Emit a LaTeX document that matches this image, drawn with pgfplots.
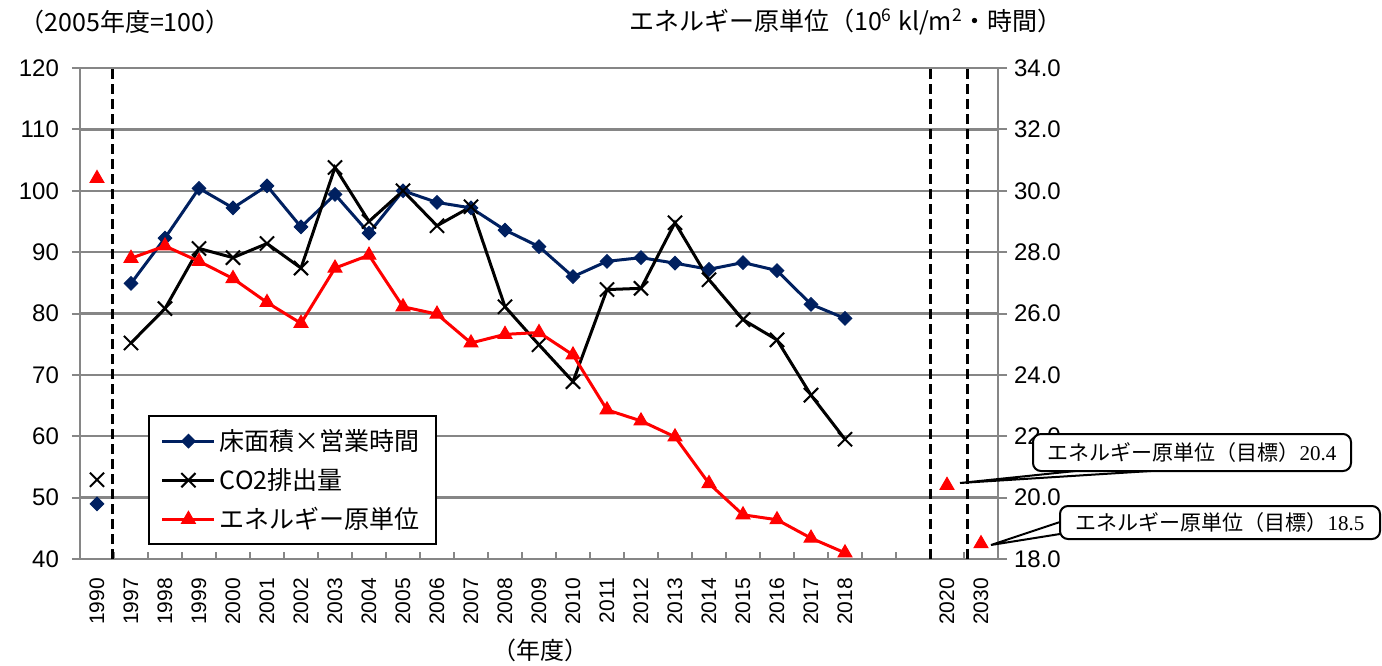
\documentclass[border=0pt]{standalone}
\usepackage{fontspec}
\setmainfont{Liberation Sans}
\newfontfamily\jp{Noto Sans CJK JP}
\newfontfamily\tm{Liberation Serif}
\usepackage{pgfplots}
\pgfplotsset{compat=1.18}
\definecolor{navy}{RGB}{0,32,96}
\definecolor{gridgray}{RGB}{134,134,134}
\begin{document}
\begin{tikzpicture}
\path[use as bounding box] (-40pt,-53pt) rectangle (651pt,279.5pt);
\pgfplotsset{
  every axis/.append style={
    scale only axis, width=459pt, height=245.5pt,
    xmin=-0.5, xmax=26.5, at={(0pt,0pt)}, anchor=south west, clip=false,
    /pgf/number format/assume math mode=true,
    tick label style={font=\fontsize{12}{14}\selectfont},
  },
  legend image code/.code={\draw[mark repeat=2,mark phase=2,#1] plot coordinates {(0pt,0pt) (13pt,0pt) (26pt,0pt)};},
  bluestyle/.style={navy, line width=1.5pt, mark=square*, mark size=2.4pt, mark options={solid, rotate=45, line width=0.5pt}},
  blackstyle/.style={black, line width=1.5pt, mark=x, mark size=5pt, mark options={solid, line width=1pt}},
  redstyle/.style={red, line width=1.5pt, mark=triangle*, mark size=4pt, mark options={solid, line width=0.5pt}},
}
\begin{axis}[
  ymin=40, ymax=120, ytick={40,50,...,120},
  ytick pos=left,
  xtick={0,1,...,22,25,26},
  xticklabels={1990,1997,1998,1999,2000,2001,2002,2003,2004,2005,2006,2007,2008,2009,2010,2011,2012,2013,2014,2015,2016,2017,2018,2020,2030},
  xtick pos=bottom,
  minor xtick={-0.5,0.5,...,26.5},
  major x tick style={draw=none},
  minor x tick style={gridgray, line width=1pt},
  minor tick length=3.5pt,
  major tick length=4pt,
  ytick style={gridgray, line width=1pt, xshift=-4pt},
  x tick label style={rotate=90, anchor=east, font=\fontsize{10.5}{12}\selectfont},
  xticklabel shift=6pt,
  yticklabel shift=7pt,
  ymajorgrids,
  grid style={gridgray, line width=1.2pt},
  axis line style={gridgray, line width=1.2pt},
  unbounded coords=jump,
]
\addplot[bluestyle] coordinates {(0,49.0) (0.5,nan) (1,84.9) (2,92.3) (3,100.4) (4,97.2) (5,100.8) (6,94.1) (7,99.4) (8,93.1) (9,100.0) (10,98.1) (11,97.2) (12,93.6) (13,90.9) (14,86.0) (15,88.5) (16,89.1) (17,88.2) (18,87.2) (19,88.3) (20,87.0) (21,81.5) (22,79.2)};
\addplot[blackstyle] coordinates {(0,52.9) (0.5,nan) (1,75.2) (2,80.8) (3,90.6) (4,89.1) (5,91.4) (6,87.4) (7,103.8) (8,95.0) (9,100.0) (10,94.3) (11,97.4) (12,81.1) (13,74.9) (14,68.9) (15,83.9) (16,84.1) (17,94.8) (18,85.5) (19,79.0) (20,75.7) (21,66.7) (22,59.5)};
\draw[black, line width=1.5pt, dash pattern=on 5pt off 2.5pt] (axis cs:0.45,40) -- (axis cs:0.45,120);
\draw[black, line width=1.5pt, dash pattern=on 5pt off 2.5pt] (axis cs:24.5,40) -- (axis cs:24.5,120);
\draw[black, line width=1.5pt, dash pattern=on 5pt off 2.5pt] (axis cs:25.6,40) -- (axis cs:25.6,120);
\end{axis}
\begin{axis}[
  ymin=18, ymax=34, ytick={18,20,...,34},
  axis y line*=right, axis x line=none,
  tick align=outside,
  major tick length=4.5pt,
  ytick style={gridgray, line width=1pt},
  axis line style={gridgray, line width=1.2pt},
  yticklabel style={/pgf/number format/.cd, fixed, fixed zerofill, precision=1},
  unbounded coords=jump,
  legend style={at={(rel axis cs:0.074,0.293)}, anchor=north west, draw=black, line width=1pt, fill=white,
    font=\jp\fontsize{12.5}{15}\selectfont, row sep=3.5pt, inner xsep=6pt, inner ysep=4.5pt},
  legend cell align=left,
]
\addlegendimage{bluestyle}
\addlegendentry{床面積×営業時間}
\addlegendimage{blackstyle}
\addlegendentry{CO2排出量}
\addplot[redstyle] coordinates {(0,30.4) (0.5,nan) (1,27.8) (2,28.2) (3,27.7) (4,27.14) (5,26.36) (6,25.68) (7,27.48) (8,27.9) (9,26.22) (10,25.98) (11,25.04) (12,25.32) (13,25.38) (14,24.65) (15,22.86) (16,22.5) (17,21.98) (18,20.46) (19,19.44) (20,19.28) (21,18.68) (22,18.2) (23,nan) (25,20.4) (25.5,nan) (26,18.5)};
\addlegendentry{エネルギー原単位}
\end{axis}
% annotations
\filldraw[fill=white, draw=black, line width=1pt] (502.5pt,44.5pt) -- (440pt,38pt) -- (543.5pt,44.5pt);
\node[draw=black, line width=1pt, rounded corners=4pt, fill=white, minimum width=159pt, minimum height=18.5pt, inner sep=0pt, font=\fontsize{10.5}{12}\selectfont] at (556pt,53.25pt) {\jp エネルギー原単位（目標）\tm 20.4};
\filldraw[fill=white, draw=black, line width=1pt] (490pt,18.5pt) -- (455.5pt,7pt) -- (490pt,12.5pt);
\node[draw=black, line width=1pt, rounded corners=4pt, fill=white, minimum width=160pt, minimum height=16.5pt, inner sep=0pt, font=\fontsize{10.5}{12}\selectfont] at (570pt,18.25pt) {\jp エネルギー原単位（目標）\tm 18.5};
% titles
\node[font=\jp\fontsize{12.5}{14}\selectfont] at (22.5pt,268.5pt) {（2005年度=100）};
\node[font=\jp\fontsize{12.5}{14}\selectfont] at (383pt,268.5pt) {エネルギー原単位（10\textsuperscript{6} kl/m\textsuperscript{2}・時間）};
\node[font=\jp\fontsize{12}{14}\selectfont] at (230pt,-45.5pt) {（年度）};
\end{tikzpicture}
\end{document}
